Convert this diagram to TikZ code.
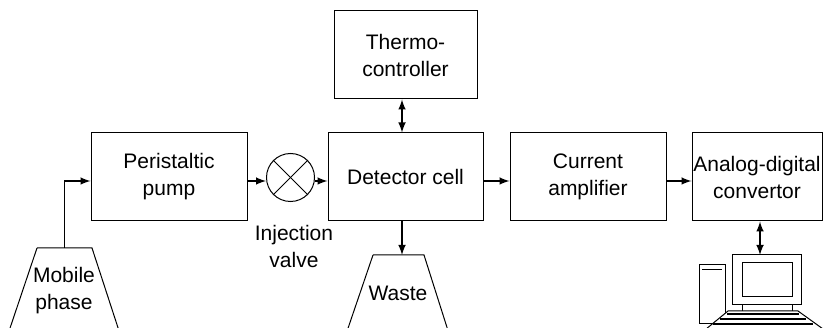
\documentclass[tikz,border=0pt]{standalone}
\usepackage{fontspec}
\setmainfont{Liberation Sans}
\usepackage{tikz}
\usetikzlibrary{calc}

\begin{document}
\begin{tikzpicture}[x=1pt,y=-1pt,line width=1pt,
  box/.style={draw,minimum width=#1,minimum height=88pt,inner sep=0pt,align=center},
  label/.style={align=center,inner sep=0pt},
  link/.style={line width=2.4pt,-latex},
  twoway/.style={line width=2.4pt,latex-latex}]
  \useasboundingbox (0,0) rectangle (840,328);
  \fontsize{21}{27}\selectfont
  \node [box=156pt] (pump) at (169,177) {Peristaltic\\pump};
  \node [box=155pt] (cell) at (405.5,177) {Detector cell};
  \node [box=143pt] (thermo) at (405.5,55) {Thermo-\\controller};
  \node [box=156pt] (amp) at (588,177) {Current\\amplifier};
  \node [box=130pt] (adc) at (757,177) {Analog-digital\\convertor};
  \node [circle,draw,minimum size=48pt,inner sep=0pt] (valve) at (290.5,177.5) {};
  \draw (valve.north west) -- (valve.south east);
  \draw (valve.north east) -- (valve.south west);
  \node [label] (inj) at (294,246) {Injection\\valve};

  % bottles
  \coordinate (mobile) at (64,248);
  \draw (37,248) -- (92,248) -- (122,340) (37,248) -- (6,340);
  \node [label] at (64,291) {Mobile\\phase};
  \coordinate (waste) at (402,255);
  \draw (373,255) -- (424,255) -- (451,340) (373,255) -- (344,340);
  \node [label] at (398,293) {Waste};

  % computer
  \coordinate (screen) at (760,255);
  \draw (732,255) rectangle (801,305);
  \draw (742,263) rectangle (792,297);
  \draw (742,305) -- (742,311) (792,305) -- (792,311);
  \draw (699,265) rectangle (725,324);
  \draw [line width=1.6pt] (702,269.5) -- (722,269.5);
  \draw [fill=white] (728,311) -- (798,311) -- (830,334) -- (700,334) -- cycle;
  \foreach \ky/\kl/\kr in {314/727/799,319/720/806,324/713/813}
    \draw [line width=1.4pt] (\kl,\ky) -- (\kr,\ky);

  % flow
  \coordinate (line) at (0,181);
  \draw (mobile) -- (mobile |- line);
  \draw [link] (mobile |- line) -- (pump.west |- line);
  \draw [link] (pump.east |- line) -- (valve.west |- line);
  \draw [link] (valve.east |- line) -- (cell.west |- line);
  \draw [link] (cell.east |- line) -- (amp.west |- line);
  \draw [link] (amp.east |- line) -- (adc.west |- line);
  \draw [twoway] (waste |- thermo.south) -- (waste |- cell.north);
  \draw [link] (waste |- cell.south) -- (waste);
  \draw [twoway] (screen |- adc.south) -- (screen);
\end{tikzpicture}
\end{document}
